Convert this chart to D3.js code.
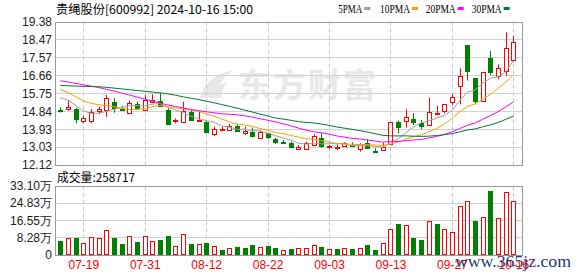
<!DOCTYPE html>
<html>
<head>
<meta charset="utf-8">
<script src="https://cdn.jsdelivr.net/npm/d3@7"></script>
<style>
body { margin: 0; background: #fff; }
svg { display: block; }
</style>
</head>
<body>
<div id="chart"></div>
<script>
// data
const dates = ['07-16','07-17','07-18','07-19','07-22','07-23','07-24','07-25','07-26','07-29',
    '07-30','07-31','08-01','08-02','08-05','08-06','08-07','08-08','08-09','08-12',
    '08-13','08-14','08-15','08-16','08-19','08-20','08-21','08-22','08-23','08-26',
    '08-27','08-28','08-29','08-30','09-02','09-03','09-04','09-05','09-06','09-09',
    '09-10','09-11','09-12','09-13','09-18','09-19','09-20','09-23','09-24','09-25',
    '09-26','09-27','09-30','10-08','10-09','10-10','10-11','10-14','10-15','10-16'];

const open = [14.92,14.92,14.94,14.35,14.36,14.82,14.87,15.29,14.97,14.72,
    15.21,14.89,15.31,15.36,14.89,14.34,14.28,14.79,14.39,14.31,
    13.67,13.90,13.88,14.09,13.75,13.78,13.52,13.73,13.42,13.30,
    13.22,12.93,12.93,13.13,13.47,13.04,13.02,13.08,13.14,12.92,
    13.22,12.85,12.92,13.18,14.30,14.31,14.45,14.23,14.14,14.70,
    14.82,15.29,16.08,18.19,16.51,15.39,17.53,16.64,16.84,17.42];
const high = [15.04,15.40,15.02,14.60,14.94,15.07,15.66,15.50,15.11,15.37,
    15.32,15.66,15.70,15.75,14.99,14.48,15.32,14.94,14.82,14.33,
    14.06,14.06,14.20,14.20,14.06,14.01,13.86,13.76,13.50,13.39,
    13.30,13.13,13.30,13.67,13.73,13.13,13.17,13.27,13.27,13.22,
    13.42,12.97,13.25,14.28,14.36,14.94,14.74,14.40,15.53,15.11,
    15.21,15.70,17.01,18.19,16.51,16.84,17.89,17.21,18.83,18.65];
const low = [14.77,14.87,14.23,14.23,14.23,14.69,14.56,14.77,14.87,14.69,
    14.94,14.85,15.27,15.07,14.14,14.23,14.26,14.38,14.31,13.76,
    13.59,13.86,13.84,13.79,13.64,13.52,13.50,13.44,13.18,13.17,
    12.99,12.90,12.88,13.10,12.99,12.93,12.88,13.05,13.05,12.79,
    12.93,12.76,12.85,13.15,13.73,14.01,14.14,13.93,14.09,14.65,
    14.74,15.16,15.19,16.39,15.19,15.35,16.67,16.46,16.64,17.35];
const close = [14.90,15.04,14.45,14.48,14.80,14.94,15.50,15.00,14.90,15.24,
    15.00,15.41,15.43,15.12,14.18,14.38,14.85,14.40,14.42,13.81,
    13.94,13.92,14.09,13.86,13.83,13.60,13.81,13.52,13.27,13.28,
    13.02,13.04,13.25,13.60,13.05,13.06,13.03,13.22,13.12,13.17,
    12.97,12.82,13.05,14.28,14.06,14.53,14.31,14.09,14.79,14.74,
    15.19,15.55,16.61,16.89,15.37,16.84,16.80,17.04,18.02,18.33];
const prevClose = 14.95;

// volume in 万手
const volume = [6.52,7.83,7.97,5.41,8.31,7.83,11.69,7.97,5.07,8.79,
    6.04,8.94,6.38,7.01,8.94,3.96,9.91,5.07,4.93,5.56,
    3.96,2.17,2.99,3.62,3.14,4.59,3.48,4.11,3.14,2.03,
    2.66,2.99,2.99,4.59,3.62,2.51,2.66,2.99,2.66,2.99,
    4.59,2.17,5.41,12.18,14.74,14.11,7.97,7.01,16.04,14.74,
    12.18,10.73,23.29,25.71,16.19,18.12,30.68,17.64,30.06,25.8717];

// moving average values before the window is full
const ma5Head = [15.52,15.41,15.14,14.86];
const ma10Head = [15.95,15.79,15.58,15.35,15.24,15.17,15.13,15.07,14.99];
const ma20Head = [16.38,16.32,16.25,16.18,16.11,16.04,15.95,15.86,15.76,15.66,
    15.56,15.45,15.35,15.25,15.16,15.08,15.00,14.93,14.87];
const ma30Head = [16.15,16.13,16.11,16.10,16.09,16.08,16.05,16.01,15.97,15.93,
    15.89,15.85,15.81,15.77,15.72,15.65,15.57,15.50,15.43,15.35,
    15.27,15.18,15.09,15.00,14.90,14.80,14.70,14.60,14.50];

const priceTicks = [19.38,18.47,17.57,16.66,15.75,14.84,13.93,13.03,12.12];
const volTicks = [0,8.28,16.55,24.83,33.10];
const labelDates = ['07-19','07-31','08-12','08-22','09-03','09-13','09-27','10-16'];

const legend = [
    {name:'5PMA', color:'#a0a0a0', head: ma5Head, n:5},
    {name:'10PMA', color:'#f5a300', head: ma10Head, n:10},
    {name:'20PMA', color:'#ff00ff', head: ma20Head, n:20},
    {name:'30PMA', color:'#007a33', head: ma30Head, n:30}
];

// canvas
const svgWidth = 578, svgHeight = 276;
const plotL = 55, plotR = 522;
const priceTop = 21.5, priceBot = 165;
const volTop = 186, volBot = 254.5;
const red = '#ff0000', green = '#008000';
const font = '"Liberation Sans", Arial, sans-serif';
const cjk = '"Noto Sans CJK SC", sans-serif';

const svg = d3.select('#chart').append('svg')
    .attr('width', svgWidth).attr('height', svgHeight);

const x = d3.scalePoint().domain(dates).range([60.3, 513.3]);
const y = d3.scaleLinear().domain([12.12, 19.38]).range([priceBot, priceTop]);
const yv = d3.scaleLinear().domain([0, 33.10]).range([volBot, volTop]);
const crisp = v => Math.round(v) + 0.5;

// watermark
const wm = svg.append('g').attr('fill', '#e8e8e8');
wm.append('path')
    .attr('d', 'M200,98 C203,84 214,74 233,70 C222,78 217,88 216,98 Z M210,98 C213,90 220,84 228,82 C223,88 221,93 221,98 Z');
wm.append('text')
    .attr('x', 238).attr('y', 97)
    .attr('font-family', cjk).attr('font-weight', 'bold').attr('font-size', 33)
    .attr('textLength', 138).text('东方财富');

// grid lines
function hGrid(scale, ticks, top, bot){
    svg.append('g').selectAll('line')
        .data(ticks.filter(t => crisp(scale(t)) > top + 1 && crisp(scale(t)) < bot - 1))
        .enter().append('line')
        .attr('x1', plotL).attr('x2', plotR)
        .attr('y1', d => crisp(scale(d))).attr('y2', d => crisp(scale(d)))
        .attr('stroke', '#d2d2d2');
}
hGrid(y, priceTicks, priceTop, priceBot);
hGrid(yv, volTicks, volTop, volBot);

[[priceTop, priceBot], [volTop, volBot]].forEach(([t, b]) => {
    svg.append('g').selectAll('line').data(labelDates).enter().append('line')
        .attr('x1', d => crisp(x(d))).attr('x2', d => crisp(x(d)))
        .attr('y1', t).attr('y2', b)
        .attr('stroke', '#c8c8c8').attr('stroke-dasharray', '4,3');
});

// panel borders
[[priceTop, priceBot], [volTop, volBot]].forEach(([t, b]) => {
    svg.append('rect')
        .attr('x', plotL + 0.5).attr('y', crisp(t))
        .attr('width', plotR - plotL).attr('height', Math.round(b) - Math.round(t))
        .attr('fill', 'none').attr('stroke', '#999');
});

// y axes
const priceAxis = svg.append('g')
    .attr('transform', `translate(${plotL - 3},0)`)
    .call(d3.axisLeft(y).tickValues(priceTicks).tickSize(0).tickFormat(d3.format('.2f')));
const volAxis = svg.append('g')
    .attr('transform', `translate(${plotL - 3},0)`)
    .call(d3.axisLeft(yv).tickValues(volTicks).tickSize(0)
        .tickFormat(d => d === 0 ? '0' : d3.format('.2f')(d) + '万'));
[priceAxis, volAxis].forEach(a => {
    a.select('.domain').remove();
    a.selectAll('text').attr('font-family', font).attr('font-size', 12)
        .attr('fill', '#222').attr('x', 0);
});

// x axis
const xAxis = svg.append('g')
    .attr('transform', `translate(0,${volBot})`)
    .call(d3.axisBottom(x).tickValues(labelDates).tickSize(0));
xAxis.select('.domain').remove();
xAxis.selectAll('text').attr('font-family', font).attr('font-size', 12)
    .attr('fill', red).attr('y', 6).attr('dy', '0.71em');

// candles
const bw = 5;
const candles = svg.append('g').selectAll('g').data(dates).enter().append('g');
candles.append('line')
    .attr('x1', d => crisp(x(d))).attr('x2', d => crisp(x(d)))
    .attr('y1', (d, i) => y(high[i])).attr('y2', (d, i) => y(low[i]))
    .attr('stroke', (d, i) => close[i] >= open[i] ? red : green);
candles.append('rect')
    .attr('x', d => Math.round(x(d)) - 2 + 0.5)
    .attr('y', (d, i) => Math.round(y(Math.max(open[i], close[i]))) + 0.5)
    .attr('width', bw - 1)
    .attr('height', (d, i) => Math.max(1, Math.round(Math.abs(y(open[i]) - y(close[i])))))
    .attr('fill', (d, i) => close[i] >= open[i] ? '#fff' : green)
    .attr('stroke', (d, i) => close[i] >= open[i] ? red : green);

// moving averages
legend.forEach(m => {
    const vals = close.map((c, i) => {
        if (i < m.n - 1) return m.head[i];
        return d3.mean(close.slice(i - m.n + 1, i + 1));
    });
    svg.append('path')
        .datum(vals)
        .attr('fill', 'none').attr('stroke', m.color).attr('stroke-width', 1)
        .attr('d', d3.line().x((d, i) => x(dates[i])).y(d => y(d)));
});

// volume bars, coloured against the previous close
svg.append('g').selectAll('rect').data(volume).enter().append('rect')
    .attr('x', (d, i) => Math.round(x(dates[i])) - 2 + 0.5)
    .attr('y', d => Math.round(yv(d)) + 0.5)
    .attr('width', bw - 1)
    .attr('height', d => Math.round(volBot) - Math.round(yv(d)) - 1)
    .attr('fill', (d, i) => close[i] > (i ? close[i - 1] : prevClose) ? '#fff' : green)
    .attr('stroke', (d, i) => close[i] > (i ? close[i - 1] : prevClose) ? red : green);

// header and legend
svg.append('text')
    .attr('x', 56).attr('y', 14)
    .attr('font-family', cjk).attr('font-size', 12).attr('fill', '#000')
    .attr('textLength', 197).attr('lengthAdjust', 'spacingAndGlyphs')
    .text('贵绳股份[600992] 2024-10-16 15:00');

const legendX = [338.3, 380, 425.7, 471.7];
legend.forEach((m, i) => {
    const w = m.name.length * 6;
    svg.append('text')
        .attr('x', legendX[i]).attr('y', 12.5)
        .attr('font-family', '"Liberation Serif", serif').attr('font-size', 12).attr('fill', '#000')
        .attr('textLength', w).attr('lengthAdjust', 'spacingAndGlyphs')
        .text(m.name);
    svg.append('rect')
        .attr('x', legendX[i] + w + 2).attr('y', 7)
        .attr('width', 6).attr('height', 3)
        .attr('fill', m.color);
});

svg.append('text')
    .attr('x', 57).attr('y', 181.5)
    .attr('font-family', cjk).attr('font-size', 12).attr('fill', '#000')
    .attr('textLength', 78).attr('lengthAdjust', 'spacingAndGlyphs')
    .text('成交量:' + Math.round(volume[volume.length - 1] * 10000));

// site mark
svg.append('text')
    .attr('x', 455).attr('y', 267)
    .attr('font-family', '"Liberation Serif", serif').attr('font-size', 17)
    .attr('fill', '#1f3a78')
    .attr('textLength', 116).attr('lengthAdjust', 'spacingAndGlyphs')
    .text('www.365jz.com');
</script>
</body>
</html>
